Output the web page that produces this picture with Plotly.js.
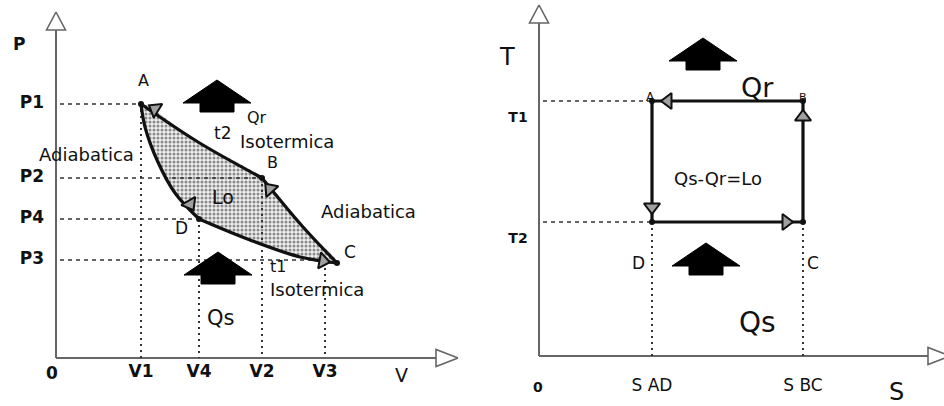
<!DOCTYPE html>
<html><head><meta charset="utf-8">
<script src="https://cdn.plot.ly/plotly-3.0.1.min.js"></script>
<style>html,body{margin:0;padding:0;background:#fff}#chart{width:944px;height:406px}</style>
</head><body><div id="chart"></div>
<script>
// ===== P-V diagram (Carnot cycle, arbitrary units) =====
const vTickLabels = ['V1', 'V4', 'V2', 'V3'];
const vTickValues = [8.5, 14.3, 20.6, 26.9];
const pTickLabels = ['P1', 'P2', 'P4', 'P3'];
const pTickValues = [25.4, 18.0, 13.9, 9.8];
const pvStates = ['A', 'B', 'C', 'D'];
const pvStateV = [8.5, 20.6, 28.1, 14.3];
const pvStateP = [25.4, 18.0, 9.5, 13.9];
// points read along each transformation
const isoT2V = [8.5, 14.2, 20.6];            // A -> B (isotherm t2)
const isoT2P = [25.4, 21.6, 18.0];
const adiaBCV = [20.6, 24.7, 28.1];          // B -> C (adiabat)
const adiaBCP = [18.0, 13.1, 9.5];
const isoT1V = [28.1, 24.4, 19.4, 14.3];     // C -> D (isotherm t1)
const isoT1P = [9.5, 10.1, 11.8, 13.9];
const adiaDAV = [14.3, 11.9, 10.1, 8.9, 8.5]; // D -> A (adiabat)
const adiaDAP = [13.9, 16.5, 19.8, 23.1, 25.4];
// direction-of-flow marks on the P-V cycle
const pvFlowV = [9.9, 13.4, 21.4, 26.7];
const pvFlowP = [24.9, 15.4, 16.9, 9.7];
const pvFlowAngle = [-58, 150, -42, 100];
// heat arrows (Qr above, Qs below)
const pvHeatV = [16.1, 16.2];
const pvHeatP = [27.8, 10.6];

// ===== T-S diagram =====
const sTickLabels = ['S AD', 'S BC'];
const sTickValues = [11.3, 26.4];
const tTickLabels = ['T1', 'T2'];
const tTickValues = [25.5, 13.4];
const tsStates = ['A', 'B', 'C', 'D'];
const tsStateS = [11.3, 26.4, 26.4, 11.3];
const tsStateT = [25.5, 25.5, 13.4, 13.4];
const tsFlowS = [12.9, 11.3, 24.7, 26.4];
const tsFlowT = [25.5, 14.9, 13.4, 23.9];
const tsFlowAngle = [-90, 180, 90, 0];
const tsHeatS = [16.4, 16.7];
const tsHeatT = [31.8, 11.3];

// ---------- helpers ----------
const INK = '#111';
const FONT = 'DejaVu Sans, Liberation Sans, sans-serif';
function segs(list) { // list of [[x0,y0],[x1,y1]] -> x/y with null gaps
  const x = [], y = [];
  list.forEach(s => { x.push(s[0][0], s[1][0], null); y.push(s[0][1], s[1][1], null); });
  return {x, y};
}
const heatTpl = [[0,0],[3.4,-2.3],[1.7,-2.3],[1.7,-3.2],[-1.7,-3.2],[-1.7,-2.3],[-3.4,-2.3],[0,0]];
function heatArrow(cx, cy, xa, ya) {
  return {type:'scatter', mode:'lines', xaxis:xa, yaxis:ya, fill:'toself', fillcolor:'#000',
    x: heatTpl.map(p => cx + p[0]), y: heatTpl.map(p => cy + p[1]),
    line:{color:'#000', width:1}, hoverinfo:'skip'};
}
function axisArrow(tip, dir, xa, ya) { // open triangle at axis end
  let x, y;
  if (dir === 'up') { x = [tip[0], tip[0]+0.95, tip[0]-0.95, tip[0]]; y = [tip[1], tip[1]-1.8, tip[1]-1.8, tip[1]]; }
  else { x = [tip[0], tip[0]-2.2, tip[0]-2.2, tip[0]]; y = [tip[1], tip[1]+0.85, tip[1]-0.85, tip[1]]; }
  return {type:'scatter', mode:'lines', xaxis:xa, yaxis:ya, x, y, fill:'toself', fillcolor:'#fff',
    line:{color:'#666', width:1.6}, hoverinfo:'skip'};
}

const traces = [];
// ---- left panel ----
const fillV = isoT2V.concat(adiaBCV.slice(1), isoT1V.slice(1), adiaDAV.slice(1));
const fillP = isoT2P.concat(adiaBCP.slice(1), isoT1P.slice(1), adiaDAP.slice(1));
traces.push({type:'scatter', mode:'lines', x:fillV, y:fillP, fill:'toself',
  fillcolor:'#ececec', fillpattern:{shape:'.', fgcolor:'#8a8a8a', bgcolor:'#eeeeee', size:4, solidity:0.45},
  line:{width:0, shape:'spline', smoothing:1}, hoverinfo:'skip'});
// axes
traces.push({type:'scatter', mode:'lines', x:[0, 0, null, 0, 38], y:[32.8, 0, null, 0, 0],
  line:{color:'#666', width:2}, hoverinfo:'skip'});
traces.push(axisArrow([0, 34.6], 'up', 'x', 'y'));
traces.push(axisArrow([40.2, 0], 'right', 'x', 'y'));
// reference lines
const hP = segs(pTickValues.map((p, i) => [[0.4, p], [[8.5, 20.6, 14.3, 27.0][i], p]]));
traces.push({type:'scatter', mode:'lines', x:hP.x, y:hP.y, line:{color:'#333', width:1.6, dash:'4px,4px'}, hoverinfo:'skip'});
const vV = segs(vTickValues.map((v, i) => [[v, [25.4, 13.9, 18.0, 9.0][i]], [v, 0]]));
traces.push({type:'scatter', mode:'lines', x:vV.x, y:vV.y, line:{color:'#333', width:2, dash:'2px,4px'}, hoverinfo:'skip'});
// cycle
[[isoT2V, isoT2P], [adiaBCV, adiaBCP], [isoT1V, isoT1P], [adiaDAV, adiaDAP]].forEach(c => {
  traces.push({type:'scatter', mode:'lines', x:c[0], y:c[1], line:{color:INK, width:3.2, shape:'spline', smoothing:1}, hoverinfo:'skip'});
});
traces.push({type:'scatter', mode:'markers', x:pvFlowV, y:pvFlowP, cliponaxis:false,
  marker:{symbol:'triangle-up', size:14, angle:pvFlowAngle, color:'#a0a0a0', line:{color:INK, width:2}}, hoverinfo:'skip'});
traces.push({type:'scatter', mode:'markers', x:pvStateV, y:pvStateP, marker:{color:INK, size:6}, hoverinfo:'skip'});
pvHeatV.forEach((v, i) => traces.push(heatArrow(v, pvHeatP[i], 'x', 'y')));
// tick labels
traces.push({type:'scatter', mode:'text', x:pTickValues.map(() => -2.4), y:pTickValues, text:pTickLabels,
  textfont:{family:FONT, size:17, color:INK, weight:'bold'}, hoverinfo:'skip'});
traces.push({type:'scatter', mode:'text', x:vTickValues, y:vTickValues.map(() => -1.5), text:vTickLabels,
  textfont:{family:FONT, size:17, color:INK, weight:'bold'}, hoverinfo:'skip'});

// ---- right panel ----
traces.push({type:'scatter', mode:'lines', xaxis:'x2', yaxis:'y2', x:[0, 0, null, 0, 39], y:[33.3, 0, null, 0, 0],
  line:{color:'#666', width:2}, hoverinfo:'skip'});
traces.push(axisArrow([0, 35.1], 'up', 'x2', 'y2'));
traces.push(axisArrow([41.1, 0], 'right', 'x2', 'y2'));
const hT = segs(tTickValues.map(t => [[0.4, t], [11.3, t]]));
traces.push({type:'scatter', mode:'lines', xaxis:'x2', yaxis:'y2', x:hT.x, y:hT.y, line:{color:'#333', width:1.5, dash:'4px,4px'}, hoverinfo:'skip'});
const vS = segs(sTickValues.map(s => [[s, 13.4], [s, 0]]));
traces.push({type:'scatter', mode:'lines', xaxis:'x2', yaxis:'y2', x:vS.x, y:vS.y, line:{color:'#333', width:2, dash:'2px,4px'}, hoverinfo:'skip'});
traces.push({type:'scatter', mode:'lines', xaxis:'x2', yaxis:'y2', x:tsStateS.concat([tsStateS[0]]), y:tsStateT.concat([tsStateT[0]]),
  line:{color:INK, width:3.2}, hoverinfo:'skip'});
traces.push({type:'scatter', mode:'markers', xaxis:'x2', yaxis:'y2', x:tsFlowS, y:tsFlowT, cliponaxis:false,
  marker:{symbol:'triangle-up', size:14, angle:tsFlowAngle, color:'#a0a0a0', line:{color:INK, width:2}}, hoverinfo:'skip'});
traces.push({type:'scatter', mode:'markers', xaxis:'x2', yaxis:'y2', x:tsStateS, y:tsStateT, marker:{color:INK, size:6}, hoverinfo:'skip'});
tsHeatS.forEach((s, i) => traces.push(heatArrow(s, tsHeatT[i], 'x2', 'y2')));
traces.push({type:'scatter', mode:'text', xaxis:'x2', yaxis:'y2', x:tTickValues.map(() => -2.1), y:tTickValues.map(t => t - 1.7), text:tTickLabels,
  textfont:{family:FONT, size:14, color:INK, weight:'bold'}, hoverinfo:'skip'});
traces.push({type:'scatter', mode:'text', xaxis:'x2', yaxis:'y2', x:sTickValues, y:sTickValues.map(() => -3.1), text:sTickLabels,
  textfont:{family:FONT, size:17, color:INK}, hoverinfo:'skip'});

function ann(text, x, y, size, ax, opts) {
  return Object.assign({text, x, y, xref:ax[0], yref:ax[1], showarrow:false,
    font:{family:FONT, size, color:INK}}, opts || {});
}
const L = ['x', 'y'], R = ['x2', 'y2'];
const annotations = [
  ann('<b>P</b>', -3.7, 31.4, 17, L),
  ann('A', 8.7, 27.8, 16, L),
  ann('Qr', 20.1, 24.1, 16, L),
  ann('t2', 16.6, 22.5, 17, L),
  ann('Isotermica', 23.1, 21.7, 18, L),
  ann('Adiabatica', 3.0, 20.4, 18, L),
  ann('B', 21.6, 19.6, 16, L),
  ann('Lo', 16.7, 16.1, 19, L),
  ann('Adiabatica', 31.2, 14.7, 18, L),
  ann('D', 12.5, 13.0, 17, L),
  ann('C', 29.4, 10.6, 17, L),
  ann('t1', 22.2, 9.2, 16, L),
  ann('Isotermica', 26.1, 6.9, 18, L),
  ann('Qs', 16.4, 4.0, 21, L),
  ann('<b>0</b>', -0.4, -1.5, 17, L),
  ann('V', 34.5, -1.7, 19, L),
  ann('T', -3.2, 29.9, 24, R),
  ann('Qr', 21.8, 26.9, 27, R),
  ann('A', 11.1, 25.9, 12, R),
  ann('B', 26.4, 25.9, 11, R),
  ann('Qs-Qr=Lo', 17.9, 17.8, 18, R),
  ann('D', 9.9, 9.3, 17, R),
  ann('C', 27.4, 9.3, 17, R),
  ann('Qs', 21.8, 3.4, 28, R),
  ann('<b>0</b>', -0.1, -3.1, 14, R),
  ann('S', 35.7, -3.6, 24, R)
];

const layout = {
  width:944, height:406, margin:{l:0, r:0, t:0, b:0}, showlegend:false,
  paper_bgcolor:'#fff', plot_bgcolor:'#fff',
  xaxis:{domain:[0, 470/944], range:[-5.6, 41.4], visible:false, fixedrange:true},
  yaxis:{domain:[0, 1], range:[-4.8, 35.8], visible:false, fixedrange:true},
  xaxis2:{domain:[470/944, 1], range:[-6.9, 40.5], visible:false, fixedrange:true, anchor:'y2'},
  yaxis2:{domain:[0, 1], range:[-5.0, 35.6], visible:false, fixedrange:true, anchor:'x2'},
  annotations
};
Plotly.newPlot('chart', traces, layout, {staticPlot:true, displayModeBar:false});
</script></body></html>
